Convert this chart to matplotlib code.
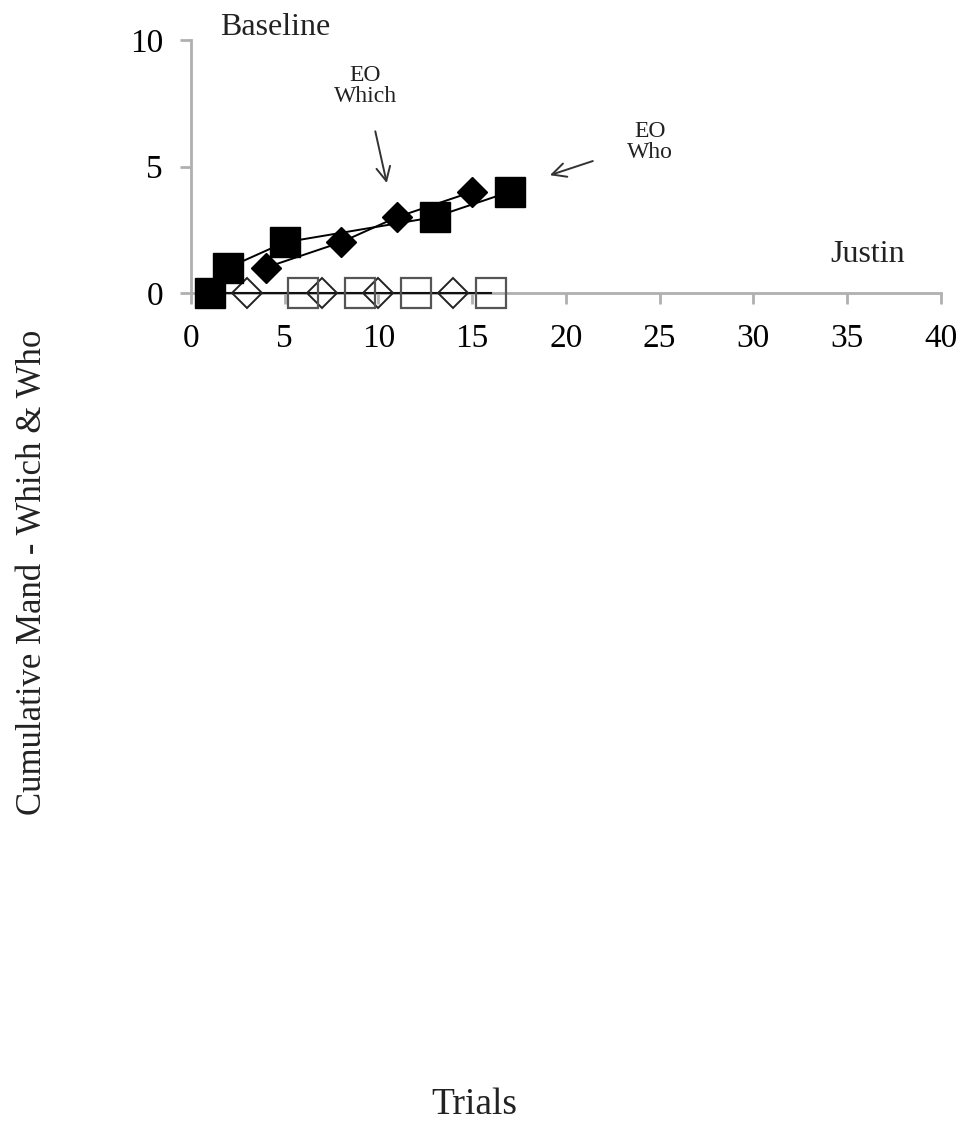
import matplotlib
matplotlib.use("Agg")
import matplotlib.pyplot as plt

plt.rcParams['font.family'] = ['Liberation Serif', 'DejaVu Serif']

# Which: filled diamonds (correct), open diamonds (no response)
which_x = [4, 8, 11, 15]
which_y = [1, 2, 3, 4]
which_open_x = [3, 7, 10, 14]
which_open_y = [0, 0, 0, 0]

# Who: filled squares, open squares
who_x = [1, 2, 5, 13, 17]
who_y = [0, 1, 2, 3, 4]
who_open_x = [6, 9, 12, 16]
who_open_y = [0, 0, 0, 0]

x_ticks = [0, 5, 10, 15, 20, 25, 30, 35, 40]
y_ticks = [0, 5, 10]

fig = plt.figure(figsize=(9.59, 11.22), dpi=100)
ax = fig.add_axes([0.199, 0.739, 0.782, 0.225])

# baseline open markers joined along zero
base_x = sorted(which_open_x + who_open_x + [who_x[0]])
ax.plot(base_x, [0] * len(base_x), color='#111111', lw=1.5, zorder=3, clip_on=False)
ax.plot(which_open_x, which_open_y, 'D', ms=15.5, mfc='none', mec='#222222', mew=1.4,
        clip_on=False, zorder=3)
ax.plot(who_open_x, who_open_y, 's', ms=21, mfc='none', mec='#555555', mew=1.6,
        clip_on=False, zorder=3)

ax.plot(which_x, which_y, 'D-', color='black', ms=15.5, lw=1.4, clip_on=False, zorder=4)
ax.plot(who_x, who_y, 's-', color='black', ms=21, lw=1.4, clip_on=False, zorder=4)

ax.set_xlim(0, 40)
ax.set_ylim(0, 10)
ax.set_xticks(x_ticks)
ax.set_yticks(y_ticks)
ax.tick_params(direction='out', length=8, width=2, color='#b0b0b0', labelsize=24)
ax.tick_params(axis='x', pad=14)
ax.tick_params(axis='y', pad=12)
for side in ['top', 'right']:
    ax.spines[side].set_visible(False)
for side in ['left', 'bottom']:
    ax.spines[side].set_color('#b0b0b0')
    ax.spines[side].set_linewidth(2)

ax.text(4.5, 10.5, 'Baseline', fontsize=23, ha='center', va='center', color='#222222')
ax.text(36.1, 1.5, 'Justin', fontsize=23, ha='center', va='center', color='#222222')

ax.annotate('EO\nWhich', xy=(10.45, 4.35), xytext=(9.3, 8.2), fontsize=17,
            ha='center', va='center', color='#222222', linespacing=1.0,
            arrowprops=dict(arrowstyle='->', color='#333333', lw=1.4,
                            shrinkA=16, shrinkB=0, mutation_scale=25))
ax.annotate('EO\nWho', xy=(19.15, 4.66), xytext=(24.5, 5.97), fontsize=17,
            ha='center', va='center', color='#222222', linespacing=1.0,
            arrowprops=dict(arrowstyle='->', color='#333333', lw=1.4,
                            shrinkA=24, shrinkB=0, mutation_scale=25))

fig.text(0.034, 0.49, 'Cumulative Mand - Which & Who', rotation=90,
         fontsize=25, ha='center', va='center', color='#222222')
fig.text(0.495, 0.015, 'Trials', fontsize=27, ha='center', va='center', color='#222222')

fig.savefig('out.png', dpi=100)
